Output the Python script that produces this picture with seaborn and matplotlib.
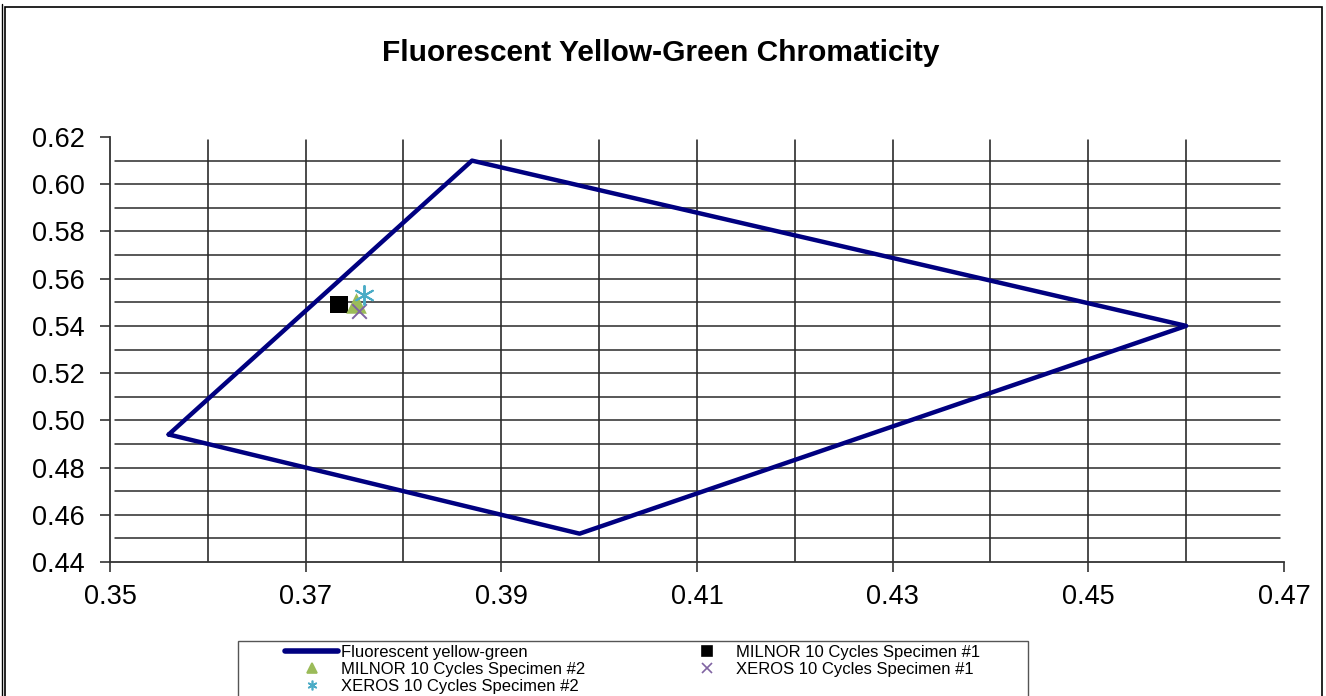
import matplotlib
matplotlib.use("Agg")
import matplotlib.pyplot as plt
import seaborn as sns
import pandas as pd
import numpy as np
from matplotlib.patches import Rectangle
from matplotlib.lines import Line2D

# chromaticity region (closed polygon) and measured specimens
region_x = [0.356, 0.387, 0.460, 0.398, 0.356]
region_y = [0.494, 0.610, 0.540, 0.452, 0.494]

specimen_names = ["MILNOR 10 Cycles Specimen #1", "MILNOR 10 Cycles Specimen #2",
                  "XEROS 10 Cycles Specimen #1", "XEROS 10 Cycles Specimen #2"]
specimen_x = [0.3734, 0.3752, 0.3755, 0.3760]
specimen_y = [0.5490, 0.5495, 0.5465, 0.5530]
specimen_colors = ["#000000", "#9BBB59", "#8064A2", "#4BACC6"]
specimen_markers = ["s", "^", "x", (6, 2, 0)]
specimen_sizes = [160, 220, 110, 190]

sns.set_style("white")
plt.rcParams["font.family"] = ["Liberation Sans", "DejaVu Sans"]
plt.rcParams["text.color"] = "black"
plt.rcParams["xtick.color"] = "black"
plt.rcParams["ytick.color"] = "black"

fig = plt.figure(figsize=(13.26, 6.96), dpi=100)
ax = fig.add_axes([110 / 1326, 1 - 562 / 696, (1284 - 110) / 1326, (562 - 137) / 696])

# page border
fig.patches.append(Rectangle((5 / 1326, -0.1), (1322 - 5) / 1326, 1.1 - 7 / 696,
                             transform=fig.transFigure, fill=False, edgecolor="black", lw=1.2))
fig.add_artist(Line2D([2 / 1326, 2 / 1326], [0, 1 - 4 / 696], transform=fig.transFigure,
                      color="black", lw=1.0))

# grid
for gx in np.arange(0.36, 0.465, 0.01):
    ax.axvline(gx, ymin=0.0, ymax=0.993, color="#1a1a1a", lw=1.1, zorder=0)
for gy in np.arange(0.45, 0.615, 0.01):
    ax.axhline(gy, xmin=0.004, xmax=0.997, color="#2a2a2a", lw=1.1, zorder=0)

df_region = pd.DataFrame({"x": region_x, "y": region_y})
sns.lineplot(data=df_region, x="x", y="y", sort=False, ax=ax, color="#000080", lw=3.2,
             estimator=None, zorder=3)

for name, sx, sy, c, m, s in zip(specimen_names, specimen_x, specimen_y,
                                  specimen_colors, specimen_markers, specimen_sizes):
    lw = 1.4 if m in ("x", (6, 2, 0)) else 0
    sns.scatterplot(x=[sx], y=[sy], ax=ax, color=c, marker=m, s=s, linewidth=lw,
                    edgecolor=c if lw else "none", zorder=4)

ax.set_xlim(0.35, 0.47)
ax.set_ylim(0.44, 0.62)
ax.set_xticks(np.arange(0.35, 0.4701, 0.02))
ax.set_yticks(np.arange(0.44, 0.6201, 0.02))
ax.set_xticklabels([f"{v:.2f}" for v in np.arange(0.35, 0.4701, 0.02)])
ax.set_yticklabels([f"{v:.2f}" for v in np.arange(0.44, 0.6201, 0.02)])
ax.tick_params(axis="both", direction="out", length=7, width=1.2, color="#333333",
               labelsize=19.5, left=True, bottom=True)
ax.tick_params(axis="y", pad=11)
ax.tick_params(axis="x", pad=9)
ax.set_xlabel("")
ax.set_ylabel("")
for sp in ["top", "right"]:
    ax.spines[sp].set_visible(False)
for sp in ["left", "bottom"]:
    ax.spines[sp].set_color("#333333")
    ax.spines[sp].set_linewidth(1.3)

fig.text(661 / 1326, 1 - 53 / 696, "Fluorescent Yellow-Green Chromaticity",
         ha="center", va="center", fontsize=21.5, fontweight="bold")

# legend box (runs off the bottom of the page)
fig.patches.append(Rectangle((238 / 1326, -0.1), (1028 - 238) / 1326, 0.1 + 1 - 641 / 696,
                             transform=fig.transFigure, fill=False, edgecolor="#555555", lw=1.0))

# legend, ordered row-wise as in the reference
h_line = Line2D([], [], color="#000080", lw=4)
hs = [Line2D([], [], ls="none", marker=m, color=c, markersize=ms, markeredgewidth=1.2)
      for m, c, ms in zip(specimen_markers, specimen_colors, [6.5, 7, 6.5, 7])]
handles = [h_line, hs[1], hs[3], hs[0], hs[2]]
labels = ["Fluorescent yellow-green", specimen_names[1], specimen_names[3],
          specimen_names[0], specimen_names[2]]
fig.legend(handles, labels, loc="upper left", bbox_to_anchor=(285 / 1326, 1 - 645 / 696),
           ncol=2, fontsize=12, frameon=False,
           handlelength=3.2, handletextpad=0.15, columnspacing=5.7, labelspacing=0.12,
           borderpad=0, borderaxespad=0)

fig.savefig("out.png", dpi=100)
